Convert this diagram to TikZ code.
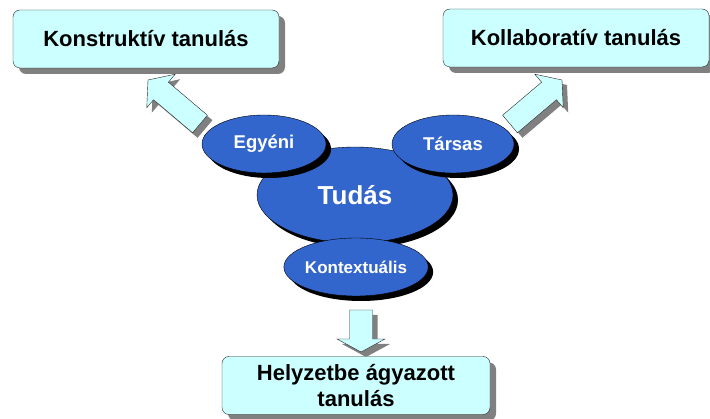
\documentclass[tikz,border=0pt]{standalone}
\usepackage{fontspec}
\setmainfont{Liberation Sans}
\usetikzlibrary{shapes.geometric,shadows,calc}

\definecolor{paleCyan}{HTML}{CCFFFF}
\definecolor{knowBlue}{HTML}{3366CC}

\tikzset{
	goal/.style={draw=black!85, fill=paleCyan, rounded corners=7pt, minimum width=266pt, minimum height=58pt, align=center, inner sep=2pt,
		font=\bfseries\fontsize{22}{26}\selectfont,
		drop shadow={shadow xshift=6pt, shadow yshift=-6pt, fill=black!50, opacity=1}},
	blob/.style={ellipse, draw=black, fill=knowBlue, text=white, inner sep=0pt,
		font=\bfseries\fontsize{18.5}{21}\selectfont,
		drop shadow={shadow xshift=5pt, shadow yshift=-5pt, fill=black, opacity=1}},
	fatbody/.style={draw=black!85, fill=paleCyan, line join=miter,
		drop shadow={shadow xshift=5pt, shadow yshift=-5pt, fill=black!50, opacity=1}}
}

% #1 start, #2 tip, #3 half width of the head, #4 length of the head
\newcommand{\fatarrow}[4]{%
	\coordinate (hb) at ($(#2)!#4!(#1)$);
	\path[fatbody] ($(#1)!11.5pt!90:(#2)$) -- ($(hb)!11.5pt!90:(#2)$) -- ($(hb)!#3!90:(#2)$) -- (#2)
		-- ($(hb)!#3!-90:(#2)$) -- ($(hb)!11.5pt!-90:(#2)$) -- ($(#1)!11.5pt!-90:(#2)$) -- cycle;}

\begin{document}
\begin{tikzpicture}[x=1pt, y=-1pt]
	\useasboundingbox (0,0) rectangle (710,419);

	\coordinate (egyS) at (200,124);
	\coordinate (konT) at (148,80);
	\coordinate (tarS) at (510,124);
	\coordinate (kolT) at (562,80);
	\coordinate (kxS) at (361,310);
	\coordinate (helT) at (361,352);

	\fatarrow{egyS}{konT}{22pt}{17pt}
	\fatarrow{tarS}{kolT}{22pt}{17pt}
	\fatarrow{kxS}{helT}{24pt}{13pt}

	\node[goal] (kon) at (146,39) {Konstruktív tanulás};
	\node[goal] (kol) at (576,38) {Kollaboratív tanulás};
	\node[goal, minimum width=268pt] (hel) at (356,385.5) {Helyzetbe ágyazott\\tanulás};

	\node[blob, minimum width=196pt, minimum height=96pt, font=\bfseries\fontsize{26}{30}\selectfont] (tudas) at (355,195) {Tudás};
	\node[blob, minimum width=124pt, minimum height=58pt] (egyeni) at (264,144) {Egyéni};
	\node[blob, minimum width=122pt, minimum height=58pt] (tarsas) at (453,144) {Társas};
	\node[blob, minimum width=126pt, minimum height=58pt, font=\bfseries\fontsize{17}{20}\selectfont] (kontext) at (356,267) {Kontextuális};
\end{tikzpicture}
\end{document}
